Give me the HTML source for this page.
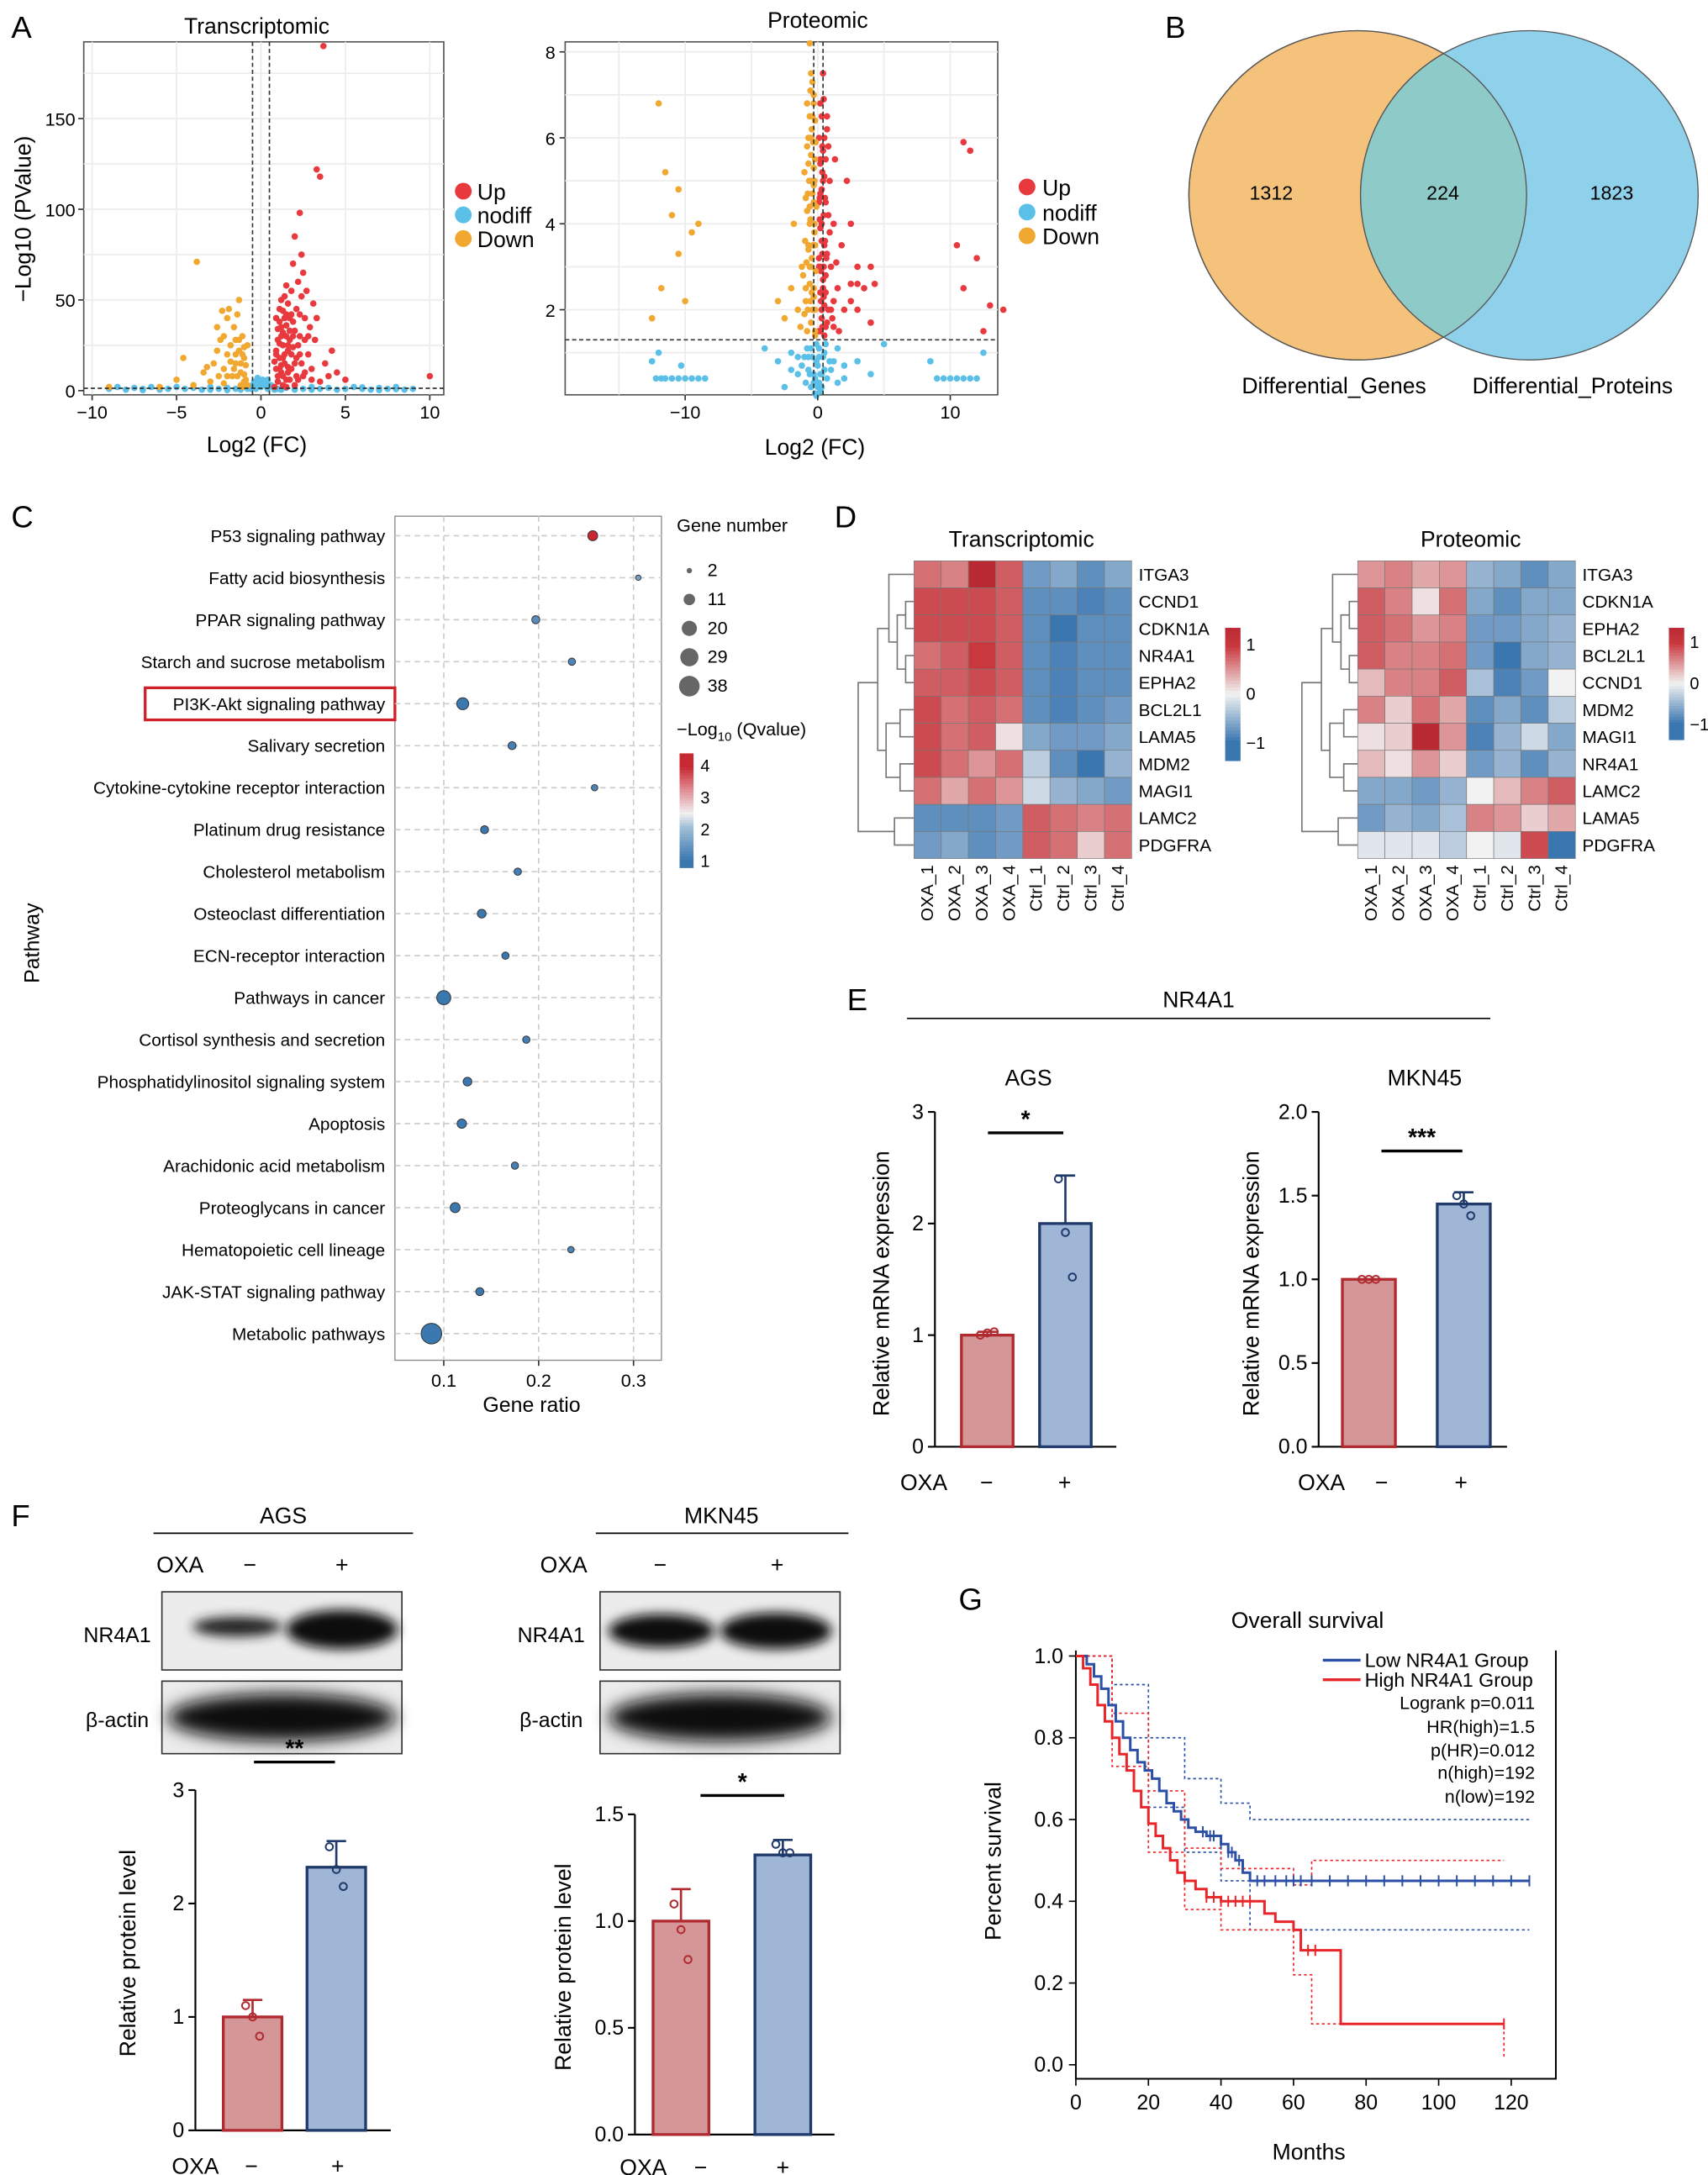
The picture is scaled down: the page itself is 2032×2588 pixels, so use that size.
<!DOCTYPE html>
<html><head><meta charset="utf-8">
<style>
html,body{margin:0;padding:0;background:#fff;}
svg{display:block;font-family:"Liberation Sans",Arial,sans-serif;}
</style></head>
<body>
<svg id="fig" width="2032" height="2588" viewBox="0 0 1224 1559" xmlns="http://www.w3.org/2000/svg">
<defs>
<filter id="blur2" x="-30%" y="-60%" width="160%" height="220%"><feGaussianBlur stdDeviation="4"/></filter>
<filter id="blur3" x="-30%" y="-60%" width="160%" height="220%"><feGaussianBlur stdDeviation="6"/></filter>
</defs>
<g font-size="22" fill="#000">
<text x="8" y="27">A</text>
<text x="835" y="27">B</text>
<text x="8" y="378">C</text>
<text x="598" y="378">D</text>
<text x="607" y="724">E</text>
<text x="8" y="1094">F</text>
<text x="687" y="1154">G</text>
</g>

<g id="volT">
<text x="184" y="24" font-size="16" text-anchor="middle">Transcriptomic</text>
<rect x="60" y="30" width="258" height="253" fill="#fff" stroke="#555" stroke-width="1"/>
<text x="184" y="324" font-size="16" text-anchor="middle">Log2 (FC)</text>
<text transform="translate(22,157) rotate(-90)" font-size="16" text-anchor="middle">−Log10 (PValue)</text>
</g>
<g id="volP">
<text x="586" y="20" font-size="16" text-anchor="middle">Proteomic</text>
<text x="584" y="326" font-size="16" text-anchor="middle">Log2 (FC)</text>
<text transform="translate(424,180) rotate(-90)" font-size="16" text-anchor="middle">−Log10 (PValue)</text>
</g>
<g font-size="16">
<circle cx="332" cy="137" r="6" fill="#e8393f"/><text x="342" y="143">Up</text>
<circle cx="332" cy="154" r="6" fill="#5bc0e8"/><text x="342" y="160">nodiff</text>
<circle cx="332" cy="171" r="6" fill="#f0a830"/><text x="342" y="177">Down</text>
<circle cx="736" cy="134" r="6" fill="#e8393f"/><text x="747" y="140">Up</text>
<circle cx="736" cy="152" r="6" fill="#5bc0e8"/><text x="747" y="158">nodiff</text>
<circle cx="736" cy="169" r="6" fill="#f0a830"/><text x="747" y="175">Down</text>
</g>

<g>
<ellipse cx="973" cy="140" rx="121" ry="118" fill="#f4c27a" stroke="#555" stroke-width="0.8"/>
<ellipse cx="1096" cy="140" rx="121" ry="118" fill="#8fd0ea" stroke="#555" stroke-width="0.8"/>
<clipPath id="cl"><ellipse cx="973" cy="140" rx="121" ry="118"/></clipPath>
<ellipse cx="1096" cy="140" rx="121" ry="118" fill="#8ecbc8" clip-path="url(#cl)" stroke="#555" stroke-width="0.8"/>
<ellipse cx="973" cy="140" rx="121" ry="118" fill="none" stroke="#555" stroke-width="0.8"/>
<text x="911" y="143" font-size="14" text-anchor="middle">1312</text>
<text x="1034" y="143" font-size="14" text-anchor="middle">224</text>
<text x="1155" y="143" font-size="14" text-anchor="middle">1823</text>
<text x="956" y="282" font-size="16" text-anchor="middle">Differential_Genes</text>
<text x="1127" y="282" font-size="16" text-anchor="middle">Differential_Proteins</text>
</g>

<g id="dot">
<rect x="283" y="370" width="191" height="605" fill="none" stroke="#888" stroke-width="0.8"/>
<text x="381" y="1012" font-size="15" text-anchor="middle">Gene ratio</text>
<text transform="translate(28,676) rotate(-90)" font-size="15" text-anchor="middle">Pathway</text>
<rect x="104" y="493" width="179" height="23" fill="none" stroke="#d0202a" stroke-width="2"/>
<text x="485" y="381" font-size="13">Gene number</text>
<text x="485" y="527" font-size="13">−Log<tspan font-size="9" dy="4">10</tspan><tspan dy="-4"> (Qvalue)</tspan></text>
</g>

<g id="heat">
<text x="732" y="392" font-size="16" text-anchor="middle">Transcriptomic</text>
<text x="1054" y="392" font-size="16" text-anchor="middle">Proteomic</text>
</g>

<g>
<text x="859" y="722" font-size="16" text-anchor="middle">NR4A1</text>
<line x1="650" y1="730" x2="1068" y2="730" stroke="#000" stroke-width="1"/>
</g>

<g>
<text x="203" y="1092" font-size="16" text-anchor="middle">AGS</text>
<line x1="110" y1="1099" x2="296" y2="1099" stroke="#000"/>
<text x="129" y="1127" font-size="16" text-anchor="middle">OXA</text>
<text x="179" y="1127" font-size="16" text-anchor="middle">−</text>
<text x="245" y="1127" font-size="16" text-anchor="middle">+</text>
<text x="84" y="1177" font-size="15" text-anchor="middle">NR4A1</text>
<text x="84" y="1238" font-size="15" text-anchor="middle">β-actin</text>
<rect x="116" y="1141" width="172" height="56" fill="#ececec" stroke="#333"/>
<ellipse cx="170" cy="1166" rx="32" ry="7" fill="#222" filter="url(#blur2)"/>
<ellipse cx="245" cy="1168" rx="40" ry="14" fill="#111" filter="url(#blur2)"/>
<rect x="116" y="1205" width="172" height="52" fill="#ececec" stroke="#333"/>
<ellipse cx="202" cy="1231" rx="82" ry="17" fill="#0a0a0a" filter="url(#blur3)"/>
<text x="517" y="1092" font-size="16" text-anchor="middle">MKN45</text>
<line x1="427" y1="1099" x2="608" y2="1099" stroke="#000"/>
<text x="404" y="1127" font-size="16" text-anchor="middle">OXA</text>
<text x="473" y="1127" font-size="16" text-anchor="middle">−</text>
<text x="557" y="1127" font-size="16" text-anchor="middle">+</text>
<text x="395" y="1177" font-size="15" text-anchor="middle">NR4A1</text>
<text x="395" y="1238" font-size="15" text-anchor="middle">β-actin</text>
<rect x="430" y="1141" width="172" height="56" fill="#ececec" stroke="#333"/>
<ellipse cx="474" cy="1169" rx="38" ry="12" fill="#111" filter="url(#blur2)"/>
<ellipse cx="556" cy="1169" rx="40" ry="13" fill="#0d0d0d" filter="url(#blur2)"/>
<rect x="430" y="1205" width="172" height="52" fill="#ececec" stroke="#333"/>
<ellipse cx="516" cy="1231" rx="80" ry="17" fill="#0a0a0a" filter="url(#blur3)"/>
</g>
<g id="bars"></g>

<g id="km">
<text x="937" y="1167" font-size="16" text-anchor="middle">Overall survival</text>
<text x="938" y="1548" font-size="16" text-anchor="middle">Months</text>
<text transform="translate(717,1334) rotate(-90)" font-size="16" text-anchor="middle">Percent survival</text>
<line x1="948" y1="1190" x2="975" y2="1190" stroke="#2b4fa5" stroke-width="2"/>
<text x="978" y="1195" font-size="14">Low NR4A1 Group</text>
<line x1="948" y1="1204" x2="975" y2="1204" stroke="#e8262a" stroke-width="2"/>
<text x="978" y="1209" font-size="14">High NR4A1 Group</text>
<g font-size="13" text-anchor="end">
<text x="1100" y="1225">Logrank p=0.011</text>
<text x="1100" y="1242">HR(high)=1.5</text>
<text x="1100" y="1259">p(HR)=0.012</text>
<text x="1100" y="1275">n(high)=192</text>
<text x="1100" y="1292">n(low)=192</text>
</g>
</g>
</svg>

<script>
const NS="http://www.w3.org/2000/svg";
const svg=document.getElementById('fig');
function mk(tag,attrs,parent){const e=document.createElementNS(NS,tag);for(const k in attrs)e.setAttribute(k,attrs[k]);(parent||svg).appendChild(e);return e;}
function txt(s,attrs,parent){const e=mk('text',attrs,parent);e.textContent=s;return e;}

/* ---------- Volcano data ---------- */
const tUp=[[1.0,5],[1.2,10],[1.1,18],[1.3,25],[1.5,30],[1.4,40],[1.6,48],[1.2,35],[1.8,20],[2.0,15],[2.2,25],[1.9,38],[2.1,45],[2.4,52],[2.6,40],[2.3,30],[2.8,20],[3.0,12],[2.5,8],[1.7,6],[1.3,3],[2.0,3],[3.5,5],[4.0,8],[3.8,15],[3.2,28],[2.9,35],[2.2,60],[1.9,70],[2.4,75],[2.0,85],[2.3,98],[3.3,122],[3.5,118],[3.7,190],[1.5,58],[1.1,45],[1.0,28],[0.9,12],[1.4,15],[1.6,22],[2.7,55],[3.1,48],[2.5,65],[1.8,55],[4.5,10],[5.0,6],[3.3,40],[2.1,8],[1.5,2],[10,8],[4.2,22],[2.8,30],[1.7,33],[1.2,50],[0.9,20],[2.3,42],[1.3,8],[1.6,13],[2.0,33],[1.1,38],[1.4,52],[2.6,28],[1.8,42],
[0.8,2],[1.0,8],[1.2,14],[0.9,22],[1.1,26],[1.3,32],[1.5,36],[1.7,28],[1.9,24],[2.1,18],[1.4,20],[1.6,10],[1.8,12],[2.2,6],[2.4,15],[1.3,44],[1.5,42],[1.7,40],[1.2,30],[1.0,34],[0.9,40],[1.9,30],[1.1,12],[2.6,10],[3.0,6],[2.3,20],[1.5,6],[0.8,16],[1.3,18],[1.6,25]];
const tDown=[[-1.0,5],[-1.2,10],[-1.5,15],[-1.3,22],[-1.8,25],[-2.0,20],[-2.2,12],[-1.6,35],[-1.4,42],[-1.1,30],[-2.5,8],[-3.0,5],[-2.8,15],[-2.4,28],[-1.9,45],[-3.8,71],[-2.0,40],[-1.3,50],[-4.0,3],[-5.0,6],[-3.4,10],[-1.7,8],[-1.0,18],[-2.6,22],[-1.5,28],[-9,2],[-6,2],[-1.2,3],[-2.2,4],
[-0.8,3],[-1.0,9],[-0.9,14],[-1.1,20],[-0.8,25],[-1.2,15],[-1.4,8],[-1.6,12],[-1.8,16],[-1.0,24],[-1.3,28],[-1.5,20],[-2.2,30],[-2.6,35],[-2.3,44],[-2.0,8],[-3.2,13],[-0.9,6],[-1.1,2],[-4.6,18]];
const tNo=[[-9,1],[-8.5,2],[-8,0.5],[-7.5,1.5],[-7,1],[-6.5,2],[-6,0.5],[-5.5,1],[-5,2],[-4.5,1],[-4,1.5],[-3.5,0.5],[-3,2],[-2.5,1],[-2,1.5],[-1.5,1],[-1,2],[-0.5,3],[0,2],[0.3,4],[-0.3,1],[0.5,2],[1,1],[1.5,1.5],[2,0.5],[2.5,1],[3,2],[3.5,1],[4,1.5],[4.5,0.5],[5,1],[5.5,2],[6,1],[6.5,0.5],[7,1.5],[7.5,1],[8,2],[8.5,0.5],[9,1],[-0.1,5],[0.1,6],[0.2,3],[-0.2,7],[0.4,1],[-0.6,1],
[-0.4,5],[0.4,6],[-0.2,3],[0.6,3],[-0.8,1],[0.8,0.5],[-1.2,0.5],[1.2,0.5],[-2,0.3],[2,1.5],[-3,0.5],[3,0.5],[-6,1.5],[6,1.8],[-7,0.3],[7,0.3],[8,0.8]];
const pUp=[[0.2,1.5],[0.3,2],[0.4,2.5],[0.2,3],[0.5,3.5],[0.3,4],[0.6,4.5],[0.4,5],[0.2,5.5],[0.5,6],[0.3,6.5],[0.8,2],[1.0,3],[1.2,4],[0.9,5],[1.5,2.5],[1.8,3.5],[2,2],[2.5,4],[3,3],[3.5,2.5],[4,1.7],[1.3,5.5],[0.7,6.2],[1.1,1.8],[0.6,2.8],[0.9,3.8],[2.2,5],[1.6,1.5],[3,2],[4,3],[4.3,2.6],[11,5.9],[11.5,5.7],[10.5,3.5],[12,3.2],[13,2.1],[14,2],[12.5,1.5],[11,2.5],[0.4,7.5],[0.1,3.2],[0.15,4.6],[0.7,3.3],[0.35,5.8],[0.6,1.6],[1.4,3.1],[0.8,4.2],[0.25,2.2],[0.45,6.9],
[0.1,1.5],[0.3,1.8],[0.5,2.1],[0.2,2.4],[0.4,2.7],[0.1,3.0],[0.35,3.3],[0.55,3.6],[0.2,3.9],[0.45,4.2],[0.1,4.5],[0.3,4.8],[0.5,5.1],[0.2,5.4],[0.4,5.7],[0.1,6.0],[0.3,2.0],[0.6,2.4],[0.5,1.4],[0.7,1.7],[0.25,2.9],[0.45,3.0],[0.65,3.2],[0.3,3.6],[0.15,4.1],[0.55,4.6],[0.35,5.2],[0.6,5.5],[0.2,4.7],[0.45,2.3],[1.0,2.0],[1.2,1.6],[2.5,2.6],[2.5,2.2],[3.0,2.6],[1.2,2.2],[0.8,5.8],[0.7,6.5],[0.2,6.8],[0.35,1.6]];
const pDown=[[-0.2,1.5],[-0.4,2],[-0.3,2.5],[-0.5,3],[-0.2,3.5],[-0.6,4],[-0.3,4.5],[-0.5,5],[-0.2,5.5],[-0.7,6],[-0.4,6.5],[-0.3,7],[-0.5,7.5],[-0.9,2.2],[-1.2,3],[-1.5,2],[-2,2.5],[-2.5,1.8],[-3,2.2],[-1.8,4],[-1.0,5.2],[-0.8,6.8],[-1.3,1.6],[-0.6,8.2],[-12,6.8],[-11.5,5.2],[-11,4.2],[-10.5,3.3],[-11.8,2.5],[-10,2.2],[-9.5,3.8],[-12.5,1.8],[-9,4],[-10.5,4.8],[-0.7,3.4],[-0.35,5.9],[-0.9,4.6],[-0.25,4],[-0.55,2.2],
[-0.2,1.4],[-0.5,1.7],[-0.75,2.0],[-0.3,2.3],[-0.6,2.6],[-0.15,2.9],[-0.45,3.2],[-0.7,3.5],[-0.25,3.8],[-0.55,4.1],[-0.1,4.4],[-0.4,4.7],[-0.65,5.0],[-0.3,5.3],[-0.5,5.6],[-0.15,5.9],[-0.45,6.2],[-0.6,6.5],[-0.3,6.8],[-0.55,7.1],[-0.4,7.3],[-0.8,1.5],[-1.0,1.9],[-0.9,2.5],[-1.1,2.8],[-0.85,3.1],[-0.95,3.6],[-0.8,4.3],[-0.7,5.4],[-0.8,5.8],[-0.2,6.4],[-0.35,3.5],[-0.6,3.0],[-0.2,2.0],[-0.45,2.4],[-0.3,4.9],[-0.6,4.4],[-0.75,4.7],[-0.5,6.0],[-0.25,5.0]];
const pNo=[[-10,0.4],[-9.5,0.4],[-9,0.4],[-10.5,0.4],[-11,0.4],[-11.5,0.4],[-8.5,0.4],[-12,1.0],[-3,0.8],[-2,1],[-1.5,0.5],[-1,0.9],[-0.5,1.1],[-0.3,0.3],[0,0.7],[0.3,0.5],[0.5,1.0],[1,0.6],[1.5,1.1],[2,0.4],[3,0.8],[4,0.5],[-2.5,0.2],[9,0.4],[9.5,0.4],[10,0.4],[10.5,0.4],[11,0.4],[11.5,0.4],[12,0.4],[12.5,1.0],[-0.2,0.05],[0.2,0.1],[-4,1.1],[5,1.2],[-0.1,1.2],[0.1,0.9],[-0.7,0.6],
[-0.5,0.2],[-0.3,0.5],[-0.1,0.8],[0.1,1.1],[0.3,0.2],[0.5,0.6],[-0.7,0.9],[-0.9,0.3],[0.7,0.4],[0.9,0.8],[-0.4,0.9],[-0.2,0.4],[0,0.2],[0.2,0.5],[0.4,0.9],[-0.6,0.5],[-1.2,0.7],[1.2,0.8],[-0.8,1.1],[0.6,1.2],[-0.1,0.0],[0.1,0.3],[-1.5,0.9],[1.5,0.3],[-2,0.6],[2,0.7],[-10.3,0.7],[-11.8,0.4],[-12.2,0.4],[8.5,0.8],[-12.5,0.8]];
const tXTicks=[-10,-5,0,5,10], tYTicks=[0,50,100,150];
const pXTicks=[-10,0,10], pYTicks=[2,4,6,8];

const gT=document.getElementById('volT'), gP=document.getElementById('volP');
const tx=x=>187+x*12.1, ty=y=>280-y*1.3;
const px=x=>586+x*9.5, py=y=>283.6-y*30.8;

for(const v of tXTicks){let l=mk('line',{x1:tx(v),x2:tx(v),y1:30,y2:283,stroke:'#ececec'},gT);

}
for(const v of [25,50,75,100,125,150,175]){let l=mk('line',{x1:60,x2:318,y1:ty(v),y2:ty(v),stroke:'#ececec'},gT);

}

let pf=mk('rect',{x:405,y:30,width:310,height:253,fill:'#fff',stroke:'#555','stroke-width':1},gP);


for(const v of [-15,-10,-5,0,5,10]){let l=mk('line',{x1:px(v),x2:px(v),y1:30,y2:283,stroke:'#ececec'},gP);

}
for(const v of [1,2,3,4,5,6,7,8]){let l=mk('line',{x1:405,x2:715,y1:py(v),y2:py(v),stroke:'#ececec'},gP);

}

function drawPts(arr,col,fx,fy,g,name){for(const p of arr){let c=mk('circle',{cx:fx(p[0]),cy:fy(p[1]),r:2.3,fill:col},g);

}}
drawPts(tNo,'#5bc0e8',tx,ty,gT,'nodiff-point');
drawPts(tUp,'#e8393f',tx,ty,gT,'up-point');
drawPts(tDown,'#f0a830',tx,ty,gT,'down-point');
drawPts(pNo,'#5bc0e8',px,py,gP,'nodiff-point');
drawPts(pUp,'#e8393f',px,py,gP,'up-point');
drawPts(pDown,'#f0a830',px,py,gP,'down-point');

[[tx(-0.5),30,tx(-0.5),283],[tx(0.5),30,tx(0.5),283],[60,ty(1.3),318,ty(1.3)]].forEach(a=>{let l=mk('line',{x1:a[0],y1:a[1],x2:a[2],y2:a[3],stroke:'#333','stroke-dasharray':'3,2'},gT);

});
[[px(-0.3),30,px(-0.3),283],[px(0.4),30,px(0.4),283],[405,py(1.3),715,py(1.3)]].forEach(a=>{let l=mk('line',{x1:a[0],y1:a[1],x2:a[2],y2:a[3],stroke:'#333','stroke-dasharray':'3,2'},gP);

});

for(const v of tXTicks){let l=mk('line',{x1:tx(v),x2:tx(v),y1:283,y2:287,stroke:'#333'},gT);


let t=txt(String(v).replace('-','−'),{x:tx(v),y:300,'font-size':13,'text-anchor':'middle'},gT);

}
for(const v of tYTicks){let l=mk('line',{x1:56,x2:60,y1:ty(v),y2:ty(v),stroke:'#333'},gT);


let t=txt(String(v),{x:54,y:ty(v)+5,'font-size':13,'text-anchor':'end'},gT);

}
for(const v of pXTicks){let l=mk('line',{x1:px(v),x2:px(v),y1:283,y2:287,stroke:'#333'},gP);


let t=txt(String(v).replace('-','−'),{x:px(v),y:300,'font-size':13,'text-anchor':'middle'},gP);

}
for(const v of pYTicks){let l=mk('line',{x1:401,x2:405,y1:py(v),y2:py(v),stroke:'#333'},gP);


let t=txt(String(v),{x:398,y:py(v)+5,'font-size':13,'text-anchor':'end'},gP);

}

/* ---------- Dot plot ---------- */
const pathways=["P53 signaling pathway","Fatty acid biosynthesis","PPAR signaling pathway","Starch and sucrose metabolism","PI3K-Akt signaling pathway","Salivary secretion","Cytokine-cytokine receptor interaction","Platinum drug resistance","Cholesterol metabolism","Osteoclast differentiation","ECN-receptor interaction","Pathways in cancer","Cortisol synthesis and secretion","Phosphatidylinositol signaling system","Apoptosis","Arachidonic acid metabolism","Proteoglycans in cancer","Hematopoietic cell lineage","JAK-STAT signaling pathway","Metabolic pathways"];
const geneRatio=[0.257,0.305,0.197,0.235,0.12,0.172,0.259,0.143,0.178,0.14,0.165,0.10,0.187,0.125,0.119,0.175,0.112,0.234,0.138,0.087];
const geneCount=[8,2,5,4,12,5,3,5,4,6,4,17,4,6,7,4,8,3,5,38];
const qValue=[4.3,1.6,1.3,1.2,1.0,1.1,1.2,1.0,1.1,1.0,1.0,1.0,1.1,1.0,1.0,1.1,1.0,1.2,1.0,1.0];
const ratioTicks=[0.1,0.2,0.3];
const sizeLegend=[2,11,20,29,38];
const qTicks=[4,3,2,1];
const gD=document.getElementById('dot');
const rx=r=>250+r*680, ry=i=>384+i*30.1, rr=n=>Math.sqrt(n)*1.15+0.3;
function qcol(q){const t=Math.max(0,Math.min(1,(q-1)/3));
 const stops=[[0,[59,120,176]],[0.35,[160,190,215]],[0.5,[240,240,240]],[0.75,[225,140,150]],[1,[200,40,50]]];
 for(let i=0;i<stops.length-1;i++){const a=stops[i],b=stops[i+1];if(t<=b[0]){const f=(t-a[0])/(b[0]-a[0]);return 'rgb('+a[1].map((v,k)=>Math.round(v+(b[1][k]-v)*f)).join(',')+')';}}return 'rgb(200,40,50)';}
for(const v of ratioTicks){let l=mk('line',{x1:rx(v),x2:rx(v),y1:370,y2:975,stroke:'#ccc','stroke-dasharray':'4,3'},gD);


let k=mk('line',{x1:rx(v),x2:rx(v),y1:975,y2:979,stroke:'#333'},gD);


let t=txt(String(v),{x:rx(v),y:994,'font-size':13,'text-anchor':'middle'},gD);

}
pathways.forEach((p,i)=>{let l=mk('line',{x1:283,x2:474,y1:ry(i),y2:ry(i),stroke:'#ccc','stroke-dasharray':'4,3'},gD);


let t=txt(p,{x:276,y:ry(i)+4.5,'font-size':12.5,'text-anchor':'end'},gD);


let c=mk('circle',{cx:rx(geneRatio[i]),cy:ry(i),r:rr(geneCount[i]),fill:qcol(qValue[i]),stroke:'#333','stroke-width':0.6},gD);

});
sizeLegend.forEach((n,i)=>{let c=mk('circle',{cx:494,cy:409+i*20.7,r:rr(n),fill:'#666'},gD);


let t=txt(String(n),{x:507,y:413+i*20.7,'font-size':13},gD);

});
const cbT=540, cbH=82;
for(let k=0;k<41;k++){let r=mk('rect',{x:487,y:cbT+k*2,width:10,height:2.2,fill:qcol(4.4-k*3.6/40)},gD);

}
qTicks.forEach(q=>{const y=cbT+(4.4-q)/3.6*cbH;let t=txt(String(q),{x:502,y:y+4,'font-size':12},gD);

});

/* ---------- Heatmaps ---------- */
const samples=["OXA_1","OXA_2","OXA_3","OXA_4","Ctrl_1","Ctrl_2","Ctrl_3","Ctrl_4"];
const genesT=["ITGA3","CCND1","CDKN1A","NR4A1","EPHA2","BCL2L1","LAMA5","MDM2","MAGI1","LAMC2","PDGFRA"];
const valsT=[[0.7,0.6,1.4,0.8,-0.7,-0.6,-0.8,-0.6],[0.9,0.9,0.9,0.8,-0.8,-0.8,-0.9,-0.8],[0.9,0.9,0.9,0.8,-0.8,-1,-0.8,-0.8],[0.7,0.8,1.0,0.8,-0.8,-0.9,-0.8,-0.8],[0.8,0.8,0.9,0.8,-0.8,-0.9,-0.8,-0.8],[0.9,0.7,0.8,0.7,-0.8,-0.9,-0.8,-0.7],[0.9,0.7,0.8,0.1,-0.6,-0.7,-0.7,-0.6],[0.9,0.7,0.5,0.7,-0.3,-0.8,-1.2,-0.5],[0.7,0.4,0.7,0.5,-0.2,-0.5,-0.6,-0.7],[-0.8,-0.8,-0.8,-0.7,0.8,0.7,0.6,0.7],[-0.7,-0.6,-0.8,-0.7,0.8,0.7,0.2,0.7]];
const genesP=["ITGA3","CDKN1A","EPHA2","BCL2L1","CCND1","MDM2","MAGI1","NR4A1","LAMC2","LAMA5","PDGFRA"];
const valsP=[[0.5,0.6,0.4,0.5,-0.5,-0.6,-0.8,-0.6],[0.8,0.6,0.1,0.7,-0.6,-0.8,-0.6,-0.6],[0.8,0.7,0.5,0.6,-0.7,-0.7,-0.6,-0.5],[0.8,0.6,0.6,0.7,-0.7,-1.0,-0.6,-0.5],[0.3,0.6,0.6,0.8,-0.4,-0.9,-0.7,0],[0.6,0.2,0.7,0.4,-0.8,-0.6,-0.8,-0.3],[0.1,0.2,1.4,0.5,-0.9,-0.5,-0.2,-0.6],[0.3,0.1,0.5,0.2,-0.7,-0.5,-0.8,-0.5],[-0.6,-0.6,-0.7,-0.5,0,0.3,0.6,0.8],[-0.7,-0.5,-0.6,-0.4,0.6,0.5,0.2,0.4],[-0.1,-0.1,-0.1,-0.3,0,-0.1,0.9,-1.1]];
const cbTicks=[1,0,-1];
const gH=document.getElementById('heat');
function hcol(v){const lo=[58,118,176],mid=[242,242,242],hi=[200,56,62],vhi=[165,20,35];let a,b,f;
 if(v<0){a=mid;b=lo;f=Math.min(1,-v);}else if(v<=1){a=mid;b=hi;f=v;}else{a=hi;b=vhi;f=Math.min(1,v-1);}
 return 'rgb('+a.map((x,k)=>Math.round(x+(b[k]-x)*f)).join(',')+')';}
function heat(x0,genes,vals,cbx,cbTop,cbBot,nm){
 const cw=19.5,ch=19.4,y0=402;
 vals.forEach((row,i)=>row.forEach((v,j)=>{let r=mk('rect',{x:x0+j*cw,y:y0+i*ch,width:cw,height:ch,fill:hcol(v),stroke:'#777','stroke-width':0.4},gH);
 
 }));
 genes.forEach((g,i)=>{let t=txt(g,{x:x0+8*cw+5,y:y0+i*ch+ch/2+4.5,'font-size':12.5},gH);
 
 });
 samples.forEach((s,j)=>{const cx=x0+j*cw+cw/2+4;let t=txt(s,{x:cx,y:620,'font-size':12.5,'text-anchor':'end',transform:'rotate(-90 '+cx+' 620)'},gH);
 
 });
 const n=40;for(let k=0;k<n;k++){const v=1.35-k*2.7/(n-1);let r=mk('rect',{x:cbx,y:cbTop+k*(cbBot-cbTop)/n,width:11,height:(cbBot-cbTop)/n+0.5,fill:hcol(v)},gH);
 
 }
 cbTicks.forEach(v=>{const y=cbTop+(1.35-v)/2.7*(cbBot-cbTop);let t=txt(String(v).replace('-','−'),{x:cbx+15,y:y+4,'font-size':12},gH);
 
 });
 const yc=i=>y0+i*ch+ch/2, xl=x0;
 const d='M'+xl+' '+yc(1)+'H'+(xl-6)+'V'+yc(2)+'H'+xl+' M'+xl+' '+yc(3)+'H'+(xl-6)+'V'+yc(4)+'H'+xl+' M'+(xl-6)+' '+((yc(1)+yc(2))/2)+'H'+(xl-12)+'V'+((yc(3)+yc(4))/2)+'H'+(xl-6)+' M'+xl+' '+yc(0)+'H'+(xl-18)+'V'+((yc(1)+yc(4))/2)+'H'+(xl-12)+' M'+xl+' '+yc(5)+'H'+(xl-10)+'V'+yc(6)+'H'+xl+' M'+xl+' '+yc(7)+'H'+(xl-10)+'V'+yc(8)+'H'+xl+' M'+(xl-10)+' '+((yc(5)+yc(6))/2)+'H'+(xl-20)+'V'+((yc(7)+yc(8))/2)+'H'+(xl-10)+' M'+(xl-18)+' '+((yc(0)+yc(4))/2)+'H'+(xl-26)+'V'+((yc(5)+yc(8))/2)+'H'+(xl-20)+' M'+xl+' '+yc(9)+'H'+(xl-14)+'V'+yc(10)+'H'+xl+' M'+(xl-26)+' '+((yc(1)+yc(7))/2)+'H'+(xl-40)+'V'+((yc(9)+yc(10))/2)+'H'+(xl-14);
 let p=mk('path',{d:d,fill:'none',stroke:'#777','stroke-width':1},gH);
 
 }
heat(655,genesT,valsT,878,450,545,'transcriptomic');
heat(973,genesP,valsP,1196,450,530,'proteomic');

/* ---------- Bar charts ---------- */
const agsMrnaMean=[1.0,2.0], agsMrnaErr=[0.03,0.43], agsMrnaPts=[[1.0,1.02,1.03],[2.4,1.92,1.52]];
const mknMrnaMean=[1.0,1.45], mknMrnaErr=[0.0,0.07], mknMrnaPts=[[1.0,1.0,1.0],[1.5,1.45,1.38]];
const agsProtMean=[1.0,2.32], agsProtErr=[0.15,0.23], agsProtPts=[[1.1,1.0,0.83],[2.5,2.3,2.15]];
const mknProtMean=[1.0,1.31], mknProtErr=[0.15,0.07], mknProtPts=[[1.08,0.96,0.82],[1.36,1.32,1.32]];
const agsMrnaTicks=[0,1,2,3], mknMrnaTicks=[0,0.5,1,1.5,2], agsProtTicks=[0,1,2,3], mknProtTicks=[0,0.5,1,1.5];
const gB=document.getElementById('bars');
function bar(c){
 const Y=v=>c.y0-v*c.ppu;
 let ax=mk('line',{x1:c.ax,x2:c.ax,y1:c.y0,y2:Y(c.max),stroke:'#000','stroke-width':1.3},gB);
 
 
 let bx=mk('line',{x1:c.ax,x2:c.xend,y1:c.y0,y2:c.y0,stroke:'#000','stroke-width':1.3},gB);
 
 
 c.ticks.forEach(v=>{let l=mk('line',{x1:c.ax-5,x2:c.ax,y1:Y(v),y2:Y(v),stroke:'#000','stroke-width':1.3},gB);
 
 
 let t=txt(c.fmt(v),{x:c.ax-8,y:Y(v)+5,'font-size':15,'text-anchor':'end'},gB);
 
 });
 const fills=['#d49696','#9fb6d6'],strokes=['#b02a30','#1f3a6b'];
 c.mean.forEach((m,i)=>{const x=c.bx[i];
 let r=mk('rect',{x:x,y:Y(m),width:c.bw,height:m*c.ppu,fill:fills[i],stroke:strokes[i],'stroke-width':2},gB);
 
 
 const cx=x+c.bw/2;
 let e=mk('path',{d:'M'+cx+' '+Y(m)+'V'+Y(m+c.err[i])+'M'+(cx-7)+' '+Y(m+c.err[i])+'H'+(cx+7),stroke:strokes[i],'stroke-width':1.6,fill:'none'},gB);
 
 
 c.pts[i].forEach((p,k)=>{let d=mk('circle',{cx:cx+(k-1)*5,cy:Y(p),r:2.6,fill:'none',stroke:strokes[i],'stroke-width':1.2},gB);
 
 });});
 let s=mk('line',{x1:c.sig[0],x2:c.sig[1],y1:c.sig[2],y2:c.sig[2],stroke:'#000','stroke-width':2},gB);
 
 
 let st=txt(c.star,{x:(c.sig[0]+c.sig[1])/2,y:c.sig[2]-4,'font-size':17,'font-weight':'bold','text-anchor':'middle'},gB);
 
 
 let yl=txt(c.ylab,{x:0,y:0,'font-size':16,'text-anchor':'middle',transform:'translate('+c.ylx+','+c.yly+') rotate(-90)'},gB);
 
 
 let o=txt('OXA',{x:c.oxa[0],y:c.oxa[3],'font-size':16,'text-anchor':'middle'},gB);
 
 
 let mi=txt('−',{x:c.oxa[1],y:c.oxa[3],'font-size':16,'text-anchor':'middle'},gB);
 
 
 let pl=txt('+',{x:c.oxa[2],y:c.oxa[3],'font-size':16,'text-anchor':'middle'},gB);
 
 
 if(c.title){let tt=txt(c.title,{x:c.tx,y:c.ty,'font-size':16,'text-anchor':'middle'},gB);
 
 }
}
const f1=v=>String(v), f2=v=>v.toFixed(1);
bar({nm:'ags-mrna',ax:670,y0:1037,ppu:80,max:3,xend:800,ticks:agsMrnaTicks,fmt:f1,mean:agsMrnaMean,err:agsMrnaErr,pts:agsMrnaPts,bx:[689,745],bw:37,sig:[708,762,812],star:'*',ylab:'Relative mRNA expression',ylx:637,yly:920,oxa:[662,707,763,1068],title:'AGS',tx:737,ty:778});
bar({nm:'mkn45-mrna',ax:945,y0:1037,ppu:120,max:2,xend:1080,ticks:mknMrnaTicks,fmt:f2,mean:mknMrnaMean,err:mknMrnaErr,pts:mknMrnaPts,bx:[962,1030],bw:38,sig:[990,1048,825],star:'***',ylab:'Relative mRNA expression',ylx:902,yly:920,oxa:[947,990,1047,1068],title:'MKN45',tx:1021,ty:778});
bar({nm:'ags-protein',ax:140,y0:1527,ppu:81.3,max:3,xend:280,ticks:agsProtTicks,fmt:f1,mean:agsProtMean,err:agsProtErr,pts:agsProtPts,bx:[160,220],bw:42,sig:[182,240,1263],star:'**',ylab:'Relative protein level',ylx:97,yly:1400,oxa:[140,180,242,1558]});
bar({nm:'mkn45-protein',ax:455,y0:1530,ppu:153,max:1.5,xend:598,ticks:mknProtTicks,fmt:f2,mean:mknProtMean,err:mknProtErr,pts:mknProtPts,bx:[468,541],bw:40,sig:[502,562,1287],star:'*',ylab:'Relative protein level',ylx:409,yly:1410,oxa:[461,502,561,1559]});

/* ---------- Kaplan-Meier ---------- */
const lowT=[0,3,5,7,9,11,13,15,17,19,21,23,25,27,29,31,33,36,40,42,44,46,48,125];
const lowS=[1,0.98,0.95,0.92,0.88,0.84,0.80,0.77,0.74,0.72,0.70,0.67,0.64,0.62,0.60,0.58,0.57,0.56,0.54,0.52,0.50,0.47,0.45,0.45];
const highT=[0,2,4,6,8,10,12,14,16,18,20,22,24,26,28,30,33,36,40,50,52,55,60,62,72,73,118];
const highS=[1,0.97,0.93,0.88,0.84,0.80,0.76,0.72,0.67,0.63,0.59,0.56,0.53,0.50,0.47,0.45,0.43,0.41,0.40,0.40,0.37,0.35,0.33,0.28,0.28,0.10,0.10];
const lowCiT=[0,10,20,30,40,48,125], lowCiHi=[1,0.93,0.80,0.70,0.64,0.60,0.60], lowCiLo=[1,0.80,0.63,0.52,0.45,0.33,0.33];
const highCiT=[0,10,20,30,40,60,65,118], highCiHi=[1,0.86,0.67,0.53,0.48,0.44,0.50,0.50], highCiLo=[1,0.73,0.52,0.38,0.33,0.22,0.10,0.02];
const lowCens=[35,37,38,40,42,43,45,50,52,55,58,60,62,65,70,75,80,85,90,95,100,105,110,115,120,125];
const highCens=[36,38,40,42,44,46,48,64,66,118];
const kmXTicks=[0,20,40,60,80,100,120], kmYTicks=[0,0.2,0.4,0.6,0.8,1.0];
const gK=document.getElementById('km');
const kx=m=>771+m*2.6, ky=s=>1480-s*293;
let kax=mk('path',{d:'M771 1183V1490H1115V1183',fill:'none',stroke:'#000','stroke-width':1.2},gK);


kmXTicks.forEach(v=>{let l=mk('line',{x1:kx(v),x2:kx(v),y1:1490,y2:1495,stroke:'#000'},gK);


let t=txt(String(v),{x:kx(v),y:1512,'font-size':15,'text-anchor':'middle'},gK);

});
kmYTicks.forEach(v=>{let l=mk('line',{x1:766,x2:771,y1:ky(v),y2:ky(v),stroke:'#000'},gK);


let t=txt(v.toFixed(1),{x:762,y:ky(v)+5,'font-size':15,'text-anchor':'end'},gK);

});
function stepD(T,S){let d='M'+kx(T[0])+' '+ky(S[0]);for(let i=1;i<T.length;i++){d+='H'+kx(T[i])+'V'+ky(S[i]);}return d;}
let c1=mk('path',{d:stepD(lowCiT,lowCiHi),fill:'none',stroke:'#2b4fa5','stroke-dasharray':'2,2','stroke-width':1},gK);


let c2=mk('path',{d:stepD(lowCiT,lowCiLo),fill:'none',stroke:'#2b4fa5','stroke-dasharray':'2,2','stroke-width':1},gK);


let c3=mk('path',{d:stepD(highCiT,highCiHi),fill:'none',stroke:'#e8262a','stroke-dasharray':'2,2','stroke-width':1},gK);


let c4=mk('path',{d:stepD(highCiT,highCiLo),fill:'none',stroke:'#e8262a','stroke-dasharray':'2,2','stroke-width':1},gK);


let lc=mk('path',{d:stepD(lowT,lowS),fill:'none',stroke:'#2b4fa5','stroke-width':1.8},gK);


let hc=mk('path',{d:stepD(highT,highS),fill:'none',stroke:'#e8262a','stroke-width':1.8},gK);


function survAt(T,S,m){let s=S[0];for(let i=0;i<T.length;i++){if(T[i]<=m)s=S[i];}return s;}
lowCens.forEach(m=>{const y=ky(survAt(lowT,lowS,m));let p=mk('path',{d:'M'+kx(m)+' '+(y-4)+'V'+(y+4),stroke:'#2b4fa5','stroke-width':1.2},gK);

});
highCens.forEach(m=>{const y=ky(survAt(highT,highS,m));let p=mk('path',{d:'M'+kx(m)+' '+(y-4)+'V'+(y+4),stroke:'#e8262a','stroke-width':1.2},gK);

});
svg.appendChild(gB);
</script>
</body></html>
